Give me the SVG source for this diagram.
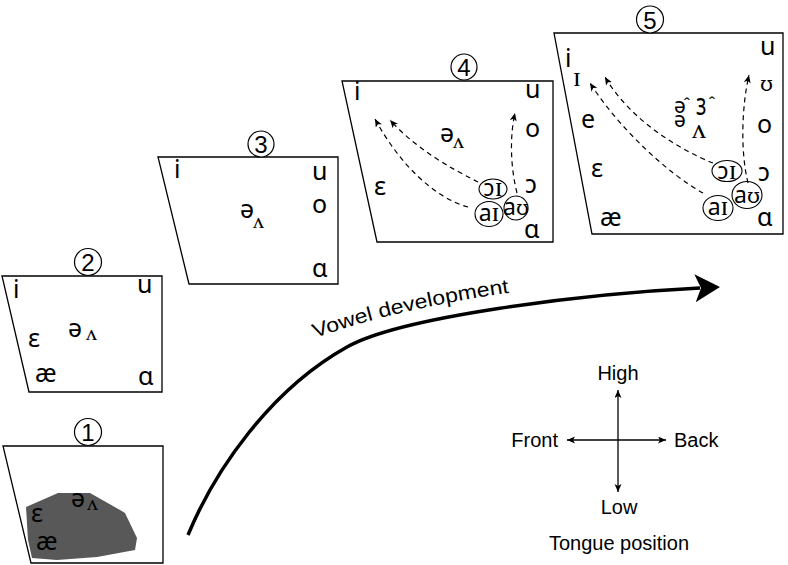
<svg xmlns="http://www.w3.org/2000/svg" width="788" height="565" viewBox="0 0 788 565">
<style>
.q{fill:none;stroke:#000;stroke-width:1.3}
.c{fill:#fff;stroke:#000;stroke-width:1.2}
.e{fill:none;stroke:#000;stroke-width:1.1}
.num{font-family:"Liberation Sans",Arial,sans-serif;font-size:24px;text-anchor:middle}
.v{font-family:"Noto Sans","DejaVu Sans",sans-serif;font-size:25px}
.vc{font-family:"Noto Sans","DejaVu Sans",sans-serif;font-size:21px}
.s{font-family:"Liberation Serif","DejaVu Serif",serif;font-size:22px}
.s2{font-family:"Liberation Serif","DejaVu Serif",serif;font-size:28px}
.u2{font-family:"DejaVu Serif","Liberation Serif",serif;font-size:21px}
.dp{font-family:"Noto Sans","DejaVu Sans",sans-serif;font-size:23px;text-anchor:middle}
.hat{font-family:"Liberation Sans",Arial,sans-serif;font-size:18px}
.lab{font-family:"Liberation Sans",Arial,sans-serif;font-size:20px}
.d{fill:none;stroke:#000;stroke-width:1.2;stroke-dasharray:5 4;marker-end:url(#ah)}
.ax{fill:none;stroke:#000;stroke-width:1.3;marker-start:url(#ah2);marker-end:url(#ah2)}
</style>
<defs>
<marker id="ah" markerUnits="userSpaceOnUse" markerWidth="10" markerHeight="8" refX="8" refY="3.5" orient="auto">
<path d="M0,0 L8,3.5 L0,7 L2,3.5 z" fill="#000"/>
</marker>
<marker id="ah2" markerUnits="userSpaceOnUse" markerWidth="10" markerHeight="8" refX="8" refY="3.5" orient="auto-start-reverse">
<path d="M0,0 L8,3.5 L0,7 L2,3.5 z" fill="#000"/>
</marker>
<marker id="big" markerUnits="userSpaceOnUse" markerWidth="28" markerHeight="30" refX="5" refY="14" orient="auto">
<path d="M0,0 L25,14 L0,28 L6,14 z" fill="#000"/>
</marker>
</defs>
<rect width="788" height="565" fill="#fff"/>

<g id="panel1">
<polygon class="q" points="3,446 163,446 163,563 31,563"/>
<polygon fill="#585858" points="26,507 58,493 90,493 120,510 125,513 137,538 135,550 97,557 57,560 32,558 28,540"/>
<circle class="c" cx="88" cy="432" r="13.5"/>
<text class="num" x="88" y="441">1</text>
<text class="v" x="71" y="507">ə</text>
<text class="s" x="87" y="510">ʌ</text>
<text class="v" x="31" y="522">ɛ</text>
<text class="v" x="36" y="550">æ</text>
</g>

<g id="panel2">
<polygon class="q" points="2,276 162,276 162,392 29,392"/>
<circle class="c" cx="88" cy="262" r="13.5"/>
<text class="num" x="88" y="271">2</text>
<text class="v" x="13" y="298">i</text>
<text class="v" x="137" y="293">u</text>
<text class="v" x="28" y="347">ɛ</text>
<text class="v" x="68" y="337">ə</text>
<text class="s" x="86" y="340">ʌ</text>
<text class="v" x="35" y="382">æ</text>
<text class="v" x="138" y="385">ɑ</text>
</g>

<g id="panel3">
<polygon class="q" points="158,157 338,157 338,284 189,284"/>
<circle class="c" cx="261" cy="144" r="13"/>
<text class="num" x="261" y="153">3</text>
<text class="v" x="174" y="178">i</text>
<text class="v" x="312" y="180">u</text>
<text class="v" x="312" y="213">o</text>
<text class="v" x="240" y="218">ə</text>
<text class="s" x="253" y="228">ʌ</text>
<text class="v" x="312" y="277">ɑ</text>
</g>

<g id="panel4">
<polygon class="q" points="342,81 553,81 553,242 377,242"/>
<circle class="c" cx="464" cy="67" r="13"/>
<text class="num" x="464" y="76">4</text>
<text class="v" x="354" y="100">i</text>
<text class="v" x="525" y="98">u</text>
<text class="v" x="525" y="137">o</text>
<text class="v" x="440" y="142">ə</text>
<text class="s" x="453" y="148">ʌ</text>
<text class="v" x="374" y="195">ɛ</text>
<text class="v" x="525" y="193">ɔ</text>
<text class="v" x="524" y="238">ɑ</text>
<ellipse class="e" cx="493" cy="189" rx="14" ry="10"/>
<ellipse class="e" cx="489" cy="214" rx="14" ry="12.5"/>
<ellipse class="e" cx="516" cy="208" rx="12" ry="12"/>
<text class="dp" x="493" y="196"><tspan>ɔ</tspan><tspan class="s2">ɪ</tspan></text>
<text class="dp" x="489" y="221"><tspan>a</tspan><tspan class="s2">ɪ</tspan></text>
<text class="dp" x="516" y="215"><tspan>a</tspan><tspan class="u2">ʊ</tspan></text>
</g>

<g id="panel5">
<polygon class="q" points="554,33 783,33 783,234 592,234"/>
<circle class="c" cx="650" cy="19.5" r="13.5"/>
<text class="num" x="650" y="28.5">5</text>
<text class="v" x="565" y="67">i</text>
<text class="s2" x="573" y="86">ɪ</text>
<text class="v" x="581" y="128">e</text>
<text class="v" x="591" y="177">ɛ</text>
<text class="v" x="600" y="226">æ</text>
<text class="v" x="760" y="55">u</text>
<text class="u2" x="760" y="91" font-size="24">ʊ</text>
<text class="v" x="757" y="133">o</text>
<text class="v" x="758" y="181">ɔ</text>
<text class="v" x="757" y="226">ɑ</text>
<text class="vc" x="674" y="113">ə</text>
<text class="hat" x="684" y="111">ˆ</text>
<text class="vc" transform="translate(696,115) scale(1,1.45)">ɜ</text>
<text class="hat" x="709" y="110">ˆ</text>
<text class="vc" x="674" y="127">ə</text>
<text class="s2" x="692" y="138">ʌ</text>
<ellipse class="e" cx="727" cy="171" rx="15" ry="10.5"/>
<ellipse class="e" cx="747" cy="195" rx="15" ry="13.5"/>
<ellipse class="e" cx="718" cy="208" rx="15" ry="12.5"/>
<text class="dp" x="727" y="179"><tspan>ɔ</tspan><tspan class="s2">ɪ</tspan></text>
<text class="dp" x="747" y="203"><tspan>a</tspan><tspan class="u2">ʊ</tspan></text>
<text class="dp" x="718" y="215"><tspan>a</tspan><tspan class="s2">ɪ</tspan></text>
</g>

<g id="connectors">
<path class="d" d="M468,207 C435,198 400,165 375,119"/>
<path class="d" d="M478,182 C450,168 415,148 390,120"/>
<path class="d" d="M517,193 C510,165 510,135 515,113"/>
<path class="d" d="M703,193 C670,175 620,130 590,83"/>
<path class="d" d="M713,163 C680,150 630,120 605,77"/>
<path class="d" d="M748,183 C740,150 742,105 749,75"/>
<path id="dev" d="M188,535 C215,470 270,390 347,347 C400,317 580,294 700,288" fill="none" stroke="#000" stroke-width="3.5" marker-end="url(#big)"/>
</g>

<g id="label-dev">
<path id="tp" d="M315,338 Q402,307 522,291" fill="none"/>
<text class="lab" font-size="24"><textPath href="#tp" textLength="200" lengthAdjust="spacingAndGlyphs">Vowel development</textPath></text>
</g>

<g id="compass">
<line class="ax" x1="618" y1="390" x2="618" y2="492"/>
<line class="ax" x1="567" y1="440" x2="666" y2="440"/>
<text class="lab" x="618" y="380" text-anchor="middle">High</text>
<text class="lab" x="558" y="447" text-anchor="end">Front</text>
<text class="lab" x="674" y="447">Back</text>
<text class="lab" x="619" y="514" text-anchor="middle">Low</text>
<text class="lab" x="619" y="550" text-anchor="middle">Tongue position</text>
</g>
</svg>
